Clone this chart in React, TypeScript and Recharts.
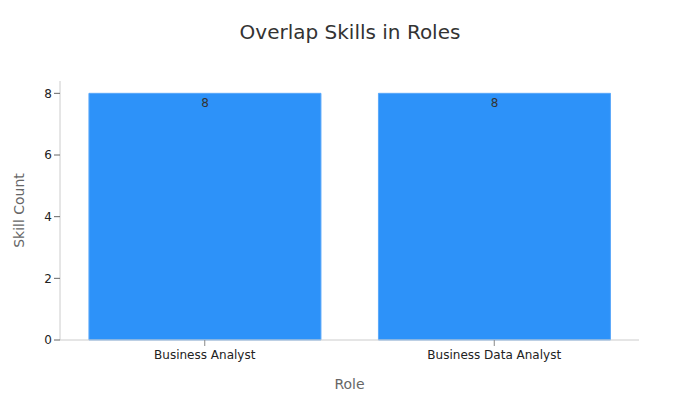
import React from 'react';
import { BarChart, Bar, XAxis, YAxis, LabelList } from 'recharts';

const roles = ['Business Analyst', 'Business Data Analyst'];
const skillCounts = [8, 8];
const yTicks = [0, 2, 4, 6, 8];

const data = roles.map((r, i) => ({ role: r, count: skillCounts[i] }));

const font = 'DejaVu Sans, sans-serif';

export default function App() {
  return (
    <div style={{ position: 'absolute', left: 0, top: 0, width: 700, height: 400, fontFamily: font, background: '#fff' }}>
      <div style={{ position: 'absolute', top: 20, left: 0, width: 700, textAlign: 'center', fontSize: 20, color: '#333' }}>
        Overlap Skills in Roles
      </div>
      <BarChart width={700} height={400} data={data} margin={{ top: 81, right: 61, bottom: 0, left: 0 }} barCategoryGap="10%">
        <XAxis
          dataKey="role"
          height={60}
          stroke="#ccc"
          tickLine={{ stroke: '#888' }}
          tick={{ fill: '#222', fontSize: 12, fontFamily: font, dy: 2 }}
          label={{ value: 'Role', position: 'insideBottom', offset: 11, fill: '#666', fontSize: 14, fontFamily: font }}
        />
        <YAxis
          width={60}
          domain={[0, 8.4]}
          ticks={yTicks}
          stroke="#ccc"
          tickLine={{ stroke: '#666' }}
          tick={{ fill: '#222', fontSize: 12, fontFamily: font }}
          label={{ value: 'Skill Count', angle: -90, position: 'insideLeft', offset: 19, fill: '#666', fontSize: 14, fontFamily: font, style: { textAnchor: 'middle' } }}
        />
        <Bar dataKey="count" fill="#2d92f9" stroke="#5aa8fa" strokeWidth={1} isAnimationActive={false}>
          <LabelList dataKey="count" position="insideTop" offset={5} fill="#333" fontSize={12} fontFamily={font} />
        </Bar>
      </BarChart>
    </div>
  );
}
